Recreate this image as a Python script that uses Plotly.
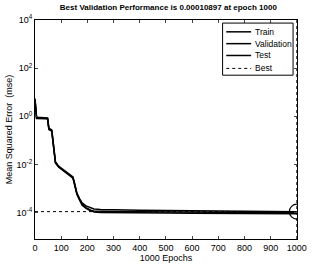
import plotly.graph_objects as go

train_x = [0, 3, 6, 48, 53, 64, 70, 78, 90, 110, 130, 145, 152, 160, 170, 180, 195, 210, 225, 250, 300, 400, 500, 600, 700, 800, 900, 1000]
train_y = [5, 1.2, 0.85, 0.8, 0.3, 0.25, 0.05, 0.012, 0.008, 0.0055, 0.0038, 0.0028, 0.0014, 0.0006, 0.00035, 0.00022, 0.00016, 0.00013, 0.000105, 0.0001, 0.000098, 0.000096, 0.000095, 0.000094, 0.000093, 0.000092, 0.000091, 0.00009]
val_x = [0, 3, 6, 48, 53, 64, 70, 78, 90, 110, 130, 145, 152, 160, 170, 180, 195, 210, 225, 250, 300, 400, 500, 600, 700, 800, 900, 1000]
val_y = [5.5, 1.3, 0.9, 0.85, 0.32, 0.27, 0.055, 0.013, 0.0085, 0.0058, 0.004, 0.003, 0.0015, 0.00065, 0.00038, 0.00025, 0.00019, 0.00016, 0.00014, 0.000135, 0.00013, 0.000125, 0.00012, 0.000118, 0.000116, 0.000114, 0.000112, 0.00010897]
test_x = [0, 3, 6, 48, 53, 64, 70, 78, 90, 110, 130, 145, 152, 160, 170, 180, 195, 210, 225, 250, 300, 400, 500, 600, 700, 800, 900, 1000]
test_y = [4.5, 1.1, 0.8, 0.78, 0.28, 0.24, 0.048, 0.0115, 0.0078, 0.0053, 0.0037, 0.0027, 0.0013, 0.00058, 0.00033, 0.0002, 0.00015, 0.00012, 0.000115, 0.000112, 0.00011, 0.000108, 0.000106, 0.000104, 0.000102, 0.0001, 0.000099, 0.000097]
best_epoch = 1000
best_val = 0.00010897
x_ticks = [0, 100, 200, 300, 400, 500, 600, 700, 800, 900, 1000]
y_tickvals = [1e-4, 1e-2, 1, 1e2, 1e4]
y_ticktext = ["10<sup>-4</sup>", "10<sup>-2</sup>", "10<sup>0</sup>", "10<sup>2</sup>", "10<sup>4</sup>"]
legend_names = ["Train", "Validation", "Test", "Best"]

fig = go.Figure()
fig.add_trace(go.Scatter(x=train_x, y=train_y, mode="lines", name="Train", line=dict(color="black", width=1.5)))
fig.add_trace(go.Scatter(x=val_x, y=val_y, mode="lines", name="Validation", line=dict(color="black", width=1.5)))
fig.add_trace(go.Scatter(x=test_x, y=test_y, mode="lines", name="Test", line=dict(color="black", width=1.5)))
fig.add_trace(go.Scatter(x=[0, best_epoch, None, best_epoch, best_epoch], y=[best_val, best_val, None, 10**-5.1, 1e4],
                         mode="lines", name="Best", line=dict(color="black", width=1, dash="dot")))
fig.add_trace(go.Scatter(x=[best_epoch], y=[best_val], mode="markers",
                         marker=dict(symbol="circle-open", size=15, color="black", line=dict(width=1.2))))

# manual compact legend (paper coordinates)
fig.add_shape(type="rect", xref="paper", yref="paper", x0=0.716, x1=0.985, y0=0.748, y1=0.986,
              line=dict(color="black", width=1), fillcolor="white", layer="above")
leg_y = [0.946, 0.892, 0.838, 0.779]
for name, yy in zip(legend_names, leg_y):
    fig.add_shape(type="line", xref="paper", yref="paper", x0=0.73, x1=0.825, y0=yy, y1=yy, layer="above",
                  line=dict(color="black", width=1.5 if name != "Best" else 1, dash="solid" if name != "Best" else "dot"))
    fig.add_annotation(xref="paper", yref="paper", x=0.832, y=yy, text=name, showarrow=False,
                       xanchor="left", yanchor="middle", font=dict(size=8.5))

fig.update_layout(
    width=315, height=269, margin=dict(l=32, r=8, t=20, b=27),
    paper_bgcolor="white", plot_bgcolor="white",
    font=dict(family="Liberation Sans, Arial", size=9, color="black"),
    title=dict(text="<b>Best Validation Performance is 0.00010897 at epoch 1000</b>", xref="container", x=0.19,
               xanchor="left", y=0.985, yanchor="top", font=dict(size=8)),
    showlegend=False,
)
fig.update_xaxes(range=[0, 1000.5], tickvals=x_ticks, ticks="inside", ticklen=3, showline=True, linecolor="black", linewidth=1,
                 mirror="ticks", showgrid=False, zeroline=False, ticklabeloverflow="allow",
                 title=dict(text="1000 Epochs", standoff=2, font=dict(size=9)))
fig.update_yaxes(type="log", range=[-5.1, 4], tickvals=y_tickvals, ticktext=y_ticktext, ticks="inside", ticklen=3,
                 showline=True, linecolor="black", linewidth=1, mirror="ticks", showgrid=False, zeroline=False,
                 title=dict(text="Mean Squared Error  (mse)", standoff=2, font=dict(size=9)))

fig.write_html("out.html")
